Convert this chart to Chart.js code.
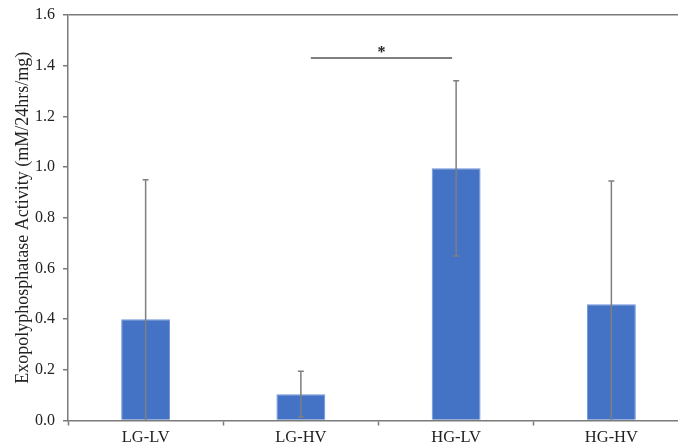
<!DOCTYPE html>
<html>
    <head>
        <script src="https://cdn.jsdelivr.net/npm/chart.js@4/dist/chart.umd.min.js"></script>
        <style>
            body { margin: 0; background: #fff; overflow: hidden; }
            #wrap { width: 678px; height: 447px; overflow: hidden; }
        </style>
    </head>
    <body>
        <div id="wrap">
            <canvas id="myChart" width="700" height="447"></canvas>
        </div>
    </body>
    <script>
        // data
        const groups = ['LG-LV', 'LG-HV', 'HG-LV', 'HG-HV']
        const activity = [0.40, 0.104, 0.995, 0.459]
        const errors = [0.55, 0.09, 0.346, 0.486]
        const yTicks = [0, 0.2, 0.4, 0.6, 0.8, 1.0, 1.2, 1.4, 1.6]
        // significance bracket: between group 1 and 2, at this level
        const sigPair = [1, 2]
        const sigLevel = 1.43
        const sigLabel = '*'

        const serif = '"Liberation Serif", "Times New Roman", serif'
        const axisGray = '#7a7a7a'

        // error bars + significance line
        const errorBars = {
            id: 'errorBars',
            afterDatasetsDraw(chart) {
                const ctx = chart.ctx
                const x = chart.scales.x
                const y = chart.scales.y
                ctx.save()
                ctx.strokeStyle = '#7f7f7f'
                ctx.lineWidth = 1.5
                activity.forEach((v, i) => {
                    const px = x.getPixelForValue(i)
                    const top = y.getPixelForValue(v + errors[i])
                    const low = v - errors[i]
                    const bot = y.getPixelForValue(Math.max(low, 0))
                    ctx.beginPath()
                    ctx.moveTo(px, top)
                    ctx.lineTo(px, bot)
                    ctx.moveTo(px - 3, top)
                    ctx.lineTo(px + 3, top)
                    if (low > 0) {
                        ctx.moveTo(px - 3, bot)
                        ctx.lineTo(px + 3, bot)
                    }
                    ctx.stroke()
                })
                // significance
                const x1 = x.getPixelForValue(sigPair[0]) + 10
                const x2 = x.getPixelForValue(sigPair[1]) - 4
                const sy = y.getPixelForValue(sigLevel)
                ctx.strokeStyle = '#555'
                ctx.lineWidth = 1.5
                ctx.beginPath()
                ctx.moveTo(x1, sy)
                ctx.lineTo(x2, sy)
                ctx.stroke()
                ctx.fillStyle = '#222'
                ctx.font = 'bold 16px ' + serif
                ctx.textAlign = 'center'
                ctx.textBaseline = 'middle'
                ctx.fillText(sigLabel, (x1 + x2) / 2, sy - 5)
                ctx.restore()
            }
        }

        const config = {
            type: 'bar',
            data: {
                labels: groups,
                datasets: [{
                    data: activity,
                    backgroundColor: '#4472C4',
                    borderColor: '#6f95dc',
                    borderWidth: 1,
                    barPercentage: 0.315,
                    categoryPercentage: 1
                }]
            },
            options: {
                responsive: false,
                animation: false,
                layout: { padding: { top: 15, right: 11, bottom: 0, left: 0 } },
                plugins: {
                    legend: { display: false },
                    tooltip: { enabled: false }
                },
                scales: {
                    x: {
                        offset: true,
                        grid: {
                            offset: true,
                            drawOnChartArea: false,
                            tickLength: 5,
                            tickColor: axisGray,
                            tickWidth: 1.5
                        },
                        border: { color: axisGray, width: 1.5 },
                        ticks: {
                            color: '#222',
                            padding: 2,
                            font: { family: serif, size: 16.5 }
                        },
                        afterFit: (s) => { s.height = 26.5 }
                    },
                    y: {
                        min: 0,
                        max: 1.6,
                        afterBuildTicks: (s) => { s.ticks = yTicks.map(v => ({ value: v })) },
                        grid: {
                            color: (c) => (c.tick && c.tick.value === 1.6) ? axisGray : 'rgba(0,0,0,0)',
                            lineWidth: 1.5,
                            tickLength: 5,
                            tickColor: axisGray,
                            tickWidth: 1.5
                        },
                        border: { color: axisGray, width: 1.5 },
                        ticks: {
                            color: '#222',
                            padding: 8,
                            font: { family: serif, size: 16 },
                            callback: (v) => Number(v).toFixed(1)
                        },
                        title: {
                            display: true,
                            text: 'Exopolyphosphatase Activity (mM/24hrs/mg)',
                            color: '#222',
                            font: { family: serif, size: 18 },
                            padding: { top: 12, bottom: 0 }
                        },
                        afterFit: (s) => {
                            s.width = 68
                            s.paddingTop = 0
                            s.paddingBottom = 0
                        }
                    }
                }
            },
            plugins: [errorBars]
        }

        const myChart = new Chart(document.getElementById('myChart'), config)
    </script>
</html>
